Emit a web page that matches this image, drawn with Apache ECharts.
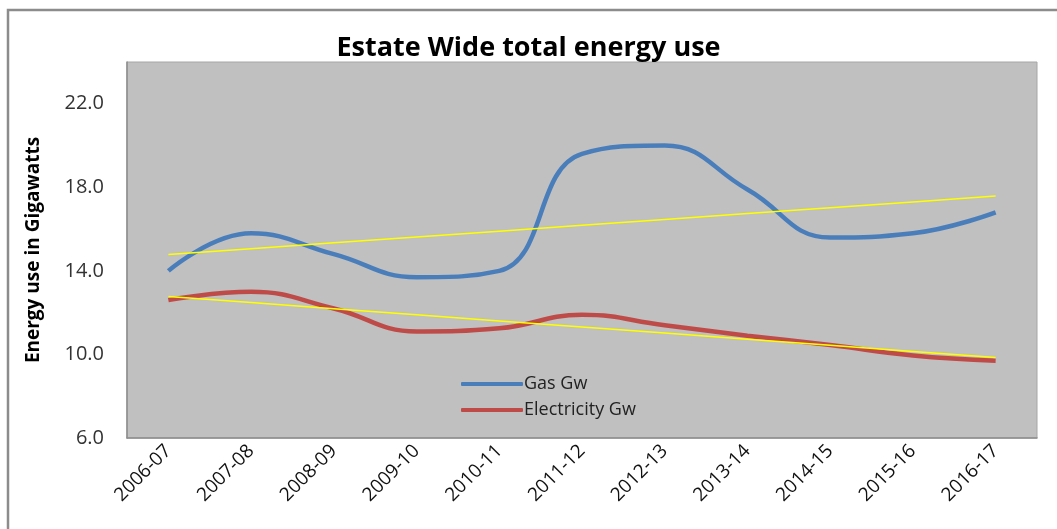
<!DOCTYPE html>
<html>
<head>
<meta charset="utf-8">
<script src="https://cdn.jsdelivr.net/npm/echarts@6/dist/echarts.min.js"></script>
<style>
html,body{margin:0;padding:0;background:#fff;}
#chart{width:1057px;height:529px;}
</style>
</head>
<body>
<div id="chart"></div>
<script>
const categories = ['2006-07','2007-08','2008-09','2009-10','2010-11','2011-12','2012-13','2013-14','2014-15','2015-16','2016-17'];
const gasGw = [14.0, 15.8, 14.8, 13.7, 14.0, 19.6, 20.0, 17.9, 15.6, 15.8, 16.8];
const electricityGw = [12.6, 13.0, 12.2, 11.1, 11.25, 11.9, 11.4, 10.9, 10.45, 9.95, 9.7];
const yTicks = {min: 6, max: 24, interval: 4};

function linearTrend(vals) {
  const n = vals.length;
  let sx = 0, sy = 0, sxx = 0, sxy = 0;
  vals.forEach((v, i) => { sx += i; sy += v; sxx += i * i; sxy += i * v; });
  const b = (n * sxy - sx * sy) / (n * sxx - sx * sx);
  const a = (sy - b * sx) / n;
  return vals.map((v, i) => +(a + b * i).toFixed(3));
}

const chart = echarts.init(document.getElementById('chart'));
const font = '"Open Sans", Lato, sans-serif';
chart.setOption({
  backgroundColor: '#ffffff',
  animation: false,
  textStyle: {fontFamily: font},
  title: {
    text: 'Estate Wide total energy use',
    left: 'center', top: 30,
    textStyle: {fontFamily: font, fontSize: 27, fontWeight: 'bold', color: '#000'}
  },
  graphic: [{
    type: 'polyline',
    shape: {points: [[8, 529], [8, 10], [1057, 10]]},
    style: {stroke: '#8c8c8c', lineWidth: 2.5, fill: null}
  }],
  grid: {
    left: 127, right: 20, top: 62, bottom: 91,
    show: true, backgroundColor: '#c0c0c0', borderColor: '#a6a6a6', borderWidth: 1
  },
  legend: {
    data: ['Gas Gw', 'Electricity Gw'],
    orient: 'vertical',
    left: 456, top: 370,
    itemWidth: 62, itemHeight: 4, itemGap: 8,
    icon: 'roundRect',
    textStyle: {fontFamily: font, fontSize: 18, color: '#222', padding: [0, 0, 0, -4]}
  },
  xAxis: {
    type: 'category',
    data: categories,
    boundaryGap: true,
    axisLine: {show: true, lineStyle: {color: '#8c8c8c', width: 1.5}},
    axisTick: {show: false},
    axisLabel: {rotate: 45, fontSize: 19, color: '#111', margin: 10, fontFamily: font, interval: 0}
  },
  yAxis: {
    type: 'value',
    min: yTicks.min, max: yTicks.max, interval: yTicks.interval,
    name: 'Energy use in Gigawatts',
    nameLocation: 'middle',
    nameGap: 84,
    nameTextStyle: {fontFamily: font, fontSize: 19, fontWeight: 'bold', color: '#000'},
    axisLine: {show: true, lineStyle: {color: '#8c8c8c', width: 1.5}},
    axisTick: {show: false},
    splitLine: {show: false},
    axisLabel: {
      showMaxLabel: false,
      fontSize: 20, color: '#333', margin: 23, fontFamily: font,
      formatter: v => v.toFixed(1)
    }
  },
  series: [
    {
      name: 'Gas Gw', type: 'line', data: gasGw, smooth: 0.45,
      showSymbol: false, symbol: 'none',
      lineStyle: {color: '#4a7ebb', width: 4.5},
      itemStyle: {color: '#4a7ebb'}, z: 3
    },
    {
      name: 'Electricity Gw', type: 'line', data: electricityGw, smooth: 0.45,
      showSymbol: false, symbol: 'none',
      lineStyle: {color: '#be4b48', width: 4.5},
      itemStyle: {color: '#be4b48'}, z: 3
    },
    {
      name: 'Gas trend', type: 'line', data: linearTrend(gasGw),
      showSymbol: false, symbol: 'none',
      lineStyle: {color: '#ffff00', width: 1.5}, z: 4
    },
    {
      name: 'Electricity trend', type: 'line', data: linearTrend(electricityGw),
      showSymbol: false, symbol: 'none',
      lineStyle: {color: '#ffff00', width: 1.5}, z: 4
    }
  ]
});
</script>
</body>
</html>
